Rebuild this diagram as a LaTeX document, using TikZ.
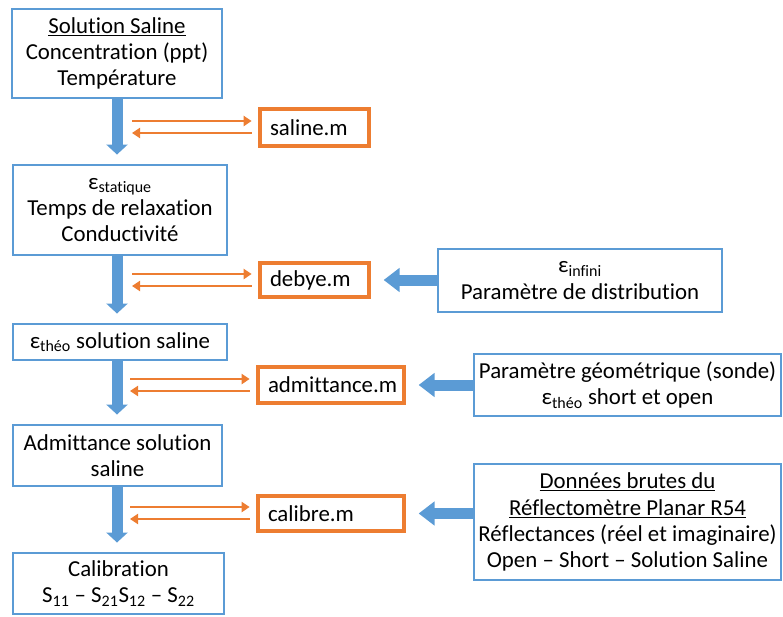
\documentclass[tikz,border=0pt]{standalone}
\usepackage{fontspec}
\setmainfont{Carlito}[Ligatures=CommonOff]
\usetikzlibrary{arrows.meta}

\definecolor{boxblue}{HTML}{5B9BD5}
\definecolor{mfile}{HTML}{ED7D31}

\tikzset{
  databox/.style={draw=boxblue, line width=2.5pt, align=center, inner sep=0pt},
  mbox/.style={draw=mfile, line width=2.8pt, align=left, inner xsep=0.3cm, inner ysep=0pt},
  bigarrow/.style={draw=boxblue, line width=0.33cm, -{Triangle[length=0.3cm,width=0.63cm]}, shorten >=0.27cm},
  sidearrow/.style={draw=boxblue, line width=0.33cm, -{Triangle[length=0.48cm,width=0.7cm]}, shorten >=0.39cm},
  callarrow/.style={draw=mfile, line width=1.7pt, -{Triangle[length=0.24cm,width=0.3cm]}}
}

\begin{document}
\begin{tikzpicture}[x=0.03cm, y=-0.03cm, font=\fontsize{19.5}{22.3}\selectfont]
		\useasboundingbox (0,0) rectangle (783,617);
		% main chain
		\node[databox, minimum width=6.3cm, minimum height=2.67cm] (sol) at (117,53.5) {\underline{Solution Saline}\\Concentration (ppt)\\Température};
		\node[databox, minimum width=6.42cm, minimum height=2.7cm] (stat) at (120,210) {ε\textsubscript{statique}\\Temps de relaxation\\Conductivité};
		\node[databox, minimum width=6.42cm, minimum height=1.08cm] (theo) at (120,342) {ε\textsubscript{théo} solution saline};
		\node[databox, minimum width=6.27cm, minimum height=1.83cm] (adm) at (117.5,455.5) {Admittance solution\\saline};
		\node[databox, minimum width=6.33cm, minimum height=1.83cm] (cal) at (118.5,583.5) {Calibration\\S\textsubscript{11} – S\textsubscript{21}S\textsubscript{12} – S\textsubscript{22}};
		% matlab files
		\node[mbox, text width=2.67cm, minimum height=1.11cm] (saline) at (314.5,127.5) {saline.m};
		\node[mbox, text width=2.67cm, minimum height=1.02cm] (debye) at (314.5,280) {debye.m};
		\node[mbox, text width=3.78cm, minimum height=1.08cm] (admit) at (331,385) {admittance.m};
		\node[mbox, text width=3.78cm, minimum height=1.05cm] (calib) at (331,513.5) {calibre.m};
		% inputs
		\node[databox, minimum width=8.52cm, minimum height=1.89cm] (infini) at (580,280.5) {ε\textsubscript{infini}\\Paramètre de distribution};
		\node[databox, minimum width=9.21cm, minimum height=1.86cm] (geom) at (627.5,385) {Paramètre géométrique (sonde)\\ε\textsubscript{théo} short et open};
		\node[databox, minimum width=9.21cm, minimum height=3.48cm] (brut) at (627.5,522) {\underline{Données brutes du}\\\underline{Réflectomètre Planar R54}\\Réflectances (réel et imaginaire)\\Open – Short – Solution Saline};

		\draw[bigarrow] (sol.south) -- (sol.south |- stat.north);
		\draw[bigarrow] (sol.south |- stat.south) -- (sol.south |- theo.north);
		\draw[bigarrow] (sol.south |- theo.south) -- (sol.south |- adm.north);
		\draw[bigarrow] (sol.south |- adm.south) -- (sol.south |- cal.north);

		\draw[sidearrow] (infini.west |- debye) -- (debye.east);
		\draw[sidearrow] (geom.west |- admit) -- (admit.east);
		\draw[sidearrow] (brut.west |- calib) -- (calib.east);

		\coordinate (u1) at (132,121); \coordinate (d1) at (132,133);
		\coordinate (u2) at (132,274); \coordinate (d2) at (132,286);
		\coordinate (u3) at (130,379); \coordinate (d3) at (130,391);
		\coordinate (u4) at (130,507); \coordinate (d4) at (130,519);
		\draw[callarrow, shorten >=0.2cm] (u1) -- (u1 -| saline.west);
		\draw[callarrow, shorten <=0.2cm] (d1 -| saline.west) -- (d1);
		\draw[callarrow, shorten >=0.2cm] (u2) -- (u2 -| debye.west);
		\draw[callarrow, shorten <=0.2cm] (d2 -| debye.west) -- (d2);
		\draw[callarrow, shorten >=0.2cm] (u3) -- (u3 -| admit.west);
		\draw[callarrow, shorten <=0.2cm] (d3 -| admit.west) -- (d3);
		\draw[callarrow, shorten >=0.2cm] (u4) -- (u4 -| calib.west);
		\draw[callarrow, shorten <=0.2cm] (d4 -| calib.west) -- (d4);
	\end{tikzpicture}
\end{document}
